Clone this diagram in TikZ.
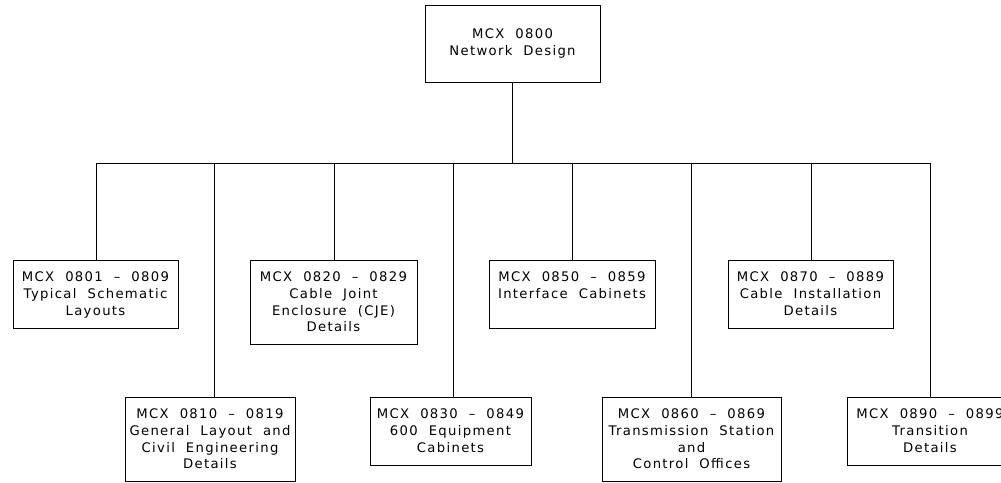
\documentclass[tikz,border=0pt]{standalone}
\usepackage{fontspec}
\setmainfont[LetterSpace=10,WordSpace=2]{DejaVu Sans}
\begin{document}
\begin{tikzpicture}[x=1pt,y=-1pt,line width=0.8pt,
  box/.style={draw,rectangle,inner sep=0pt},
  txt/.style={align=center,anchor=north,inner sep=0pt,font=\fontsize{13.2}{16.7}\selectfont}]
\useasboundingbox (0,0) rectangle (1001,482);
\clip (0,0) rectangle (1001,482);
% top
\node[box,minimum width=175pt,minimum height=77pt] (top) at (512.5,43.5) {};
\node[txt,anchor=center] (ttop) at (top.center) {MCX 0800\\Network Design};
% boxes
\node[box,minimum width=165pt,minimum height=68pt] (b1) at (95.5,294) {};
\node[box,minimum width=170pt,minimum height=84pt] (b2) at (210,439) {};
\node[box,minimum width=167pt,minimum height=84pt] (b3) at (333.5,302) {};
\node[box,minimum width=161pt,minimum height=68pt] (b4) at (450.5,431) {};
\node[box,minimum width=166pt,minimum height=68pt] (b5) at (572,294) {};
\node[box,minimum width=179pt,minimum height=84pt] (b6) at (691.5,439) {};
\node[box,minimum width=165pt,minimum height=68pt] (b7) at (810.5,294) {};
\node[box,minimum width=166pt,minimum height=68pt] (b8) at (930,431) {};
% texts
\node[txt] (t1) at ([yshift=-12pt]b1.north) {MCX 0801 -- 0809\\Typical Schematic\\Layouts};
\node[txt] (t2) at ([yshift=-12pt]b2.north) {MCX 0810 -- 0819\\General Layout and\\Civil Engineering\\Details};
\node[txt] (t3) at ([yshift=-12pt]b3.north) {MCX 0820 -- 0829\\Cable Joint\\Enclosure (CJE)\\Details};
\node[txt] (t4) at ([yshift=-12pt]b4.north) {MCX 0830 -- 0849\\600 Equipment\\Cabinets};
\node[txt] (t5) at ([yshift=-12pt]b5.north) {MCX 0850 -- 0859\\Interface Cabinets};
\node[txt] (t6) at ([yshift=-12pt]b6.north) {MCX 0860 -- 0869\\Transmission Station\\and\\Control Offices};
\node[txt] (t7) at ([yshift=-12pt]b7.north) {MCX 0870 -- 0889\\Cable Installation\\Details};
\node[txt] (t8) at ([yshift=-12pt]b8.north) {MCX 0890 -- 0899\\Transition\\Details};
% bus
\coordinate (d1) at (96,163);
\coordinate (d2) at (214,163);
\coordinate (d3) at (334,163);
\coordinate (d4) at (453,163);
\coordinate (d5) at (572,163);
\coordinate (d6) at (691,163);
\coordinate (d7) at (811,163);
\coordinate (d8) at (930,163);
\draw (top.south) -- (top.south |- d1);
\draw (d1) -- (d8);
\foreach \i in {1,...,8} {\draw (d\i) -- (d\i |- b\i.north);}
\end{tikzpicture}
\end{document}
